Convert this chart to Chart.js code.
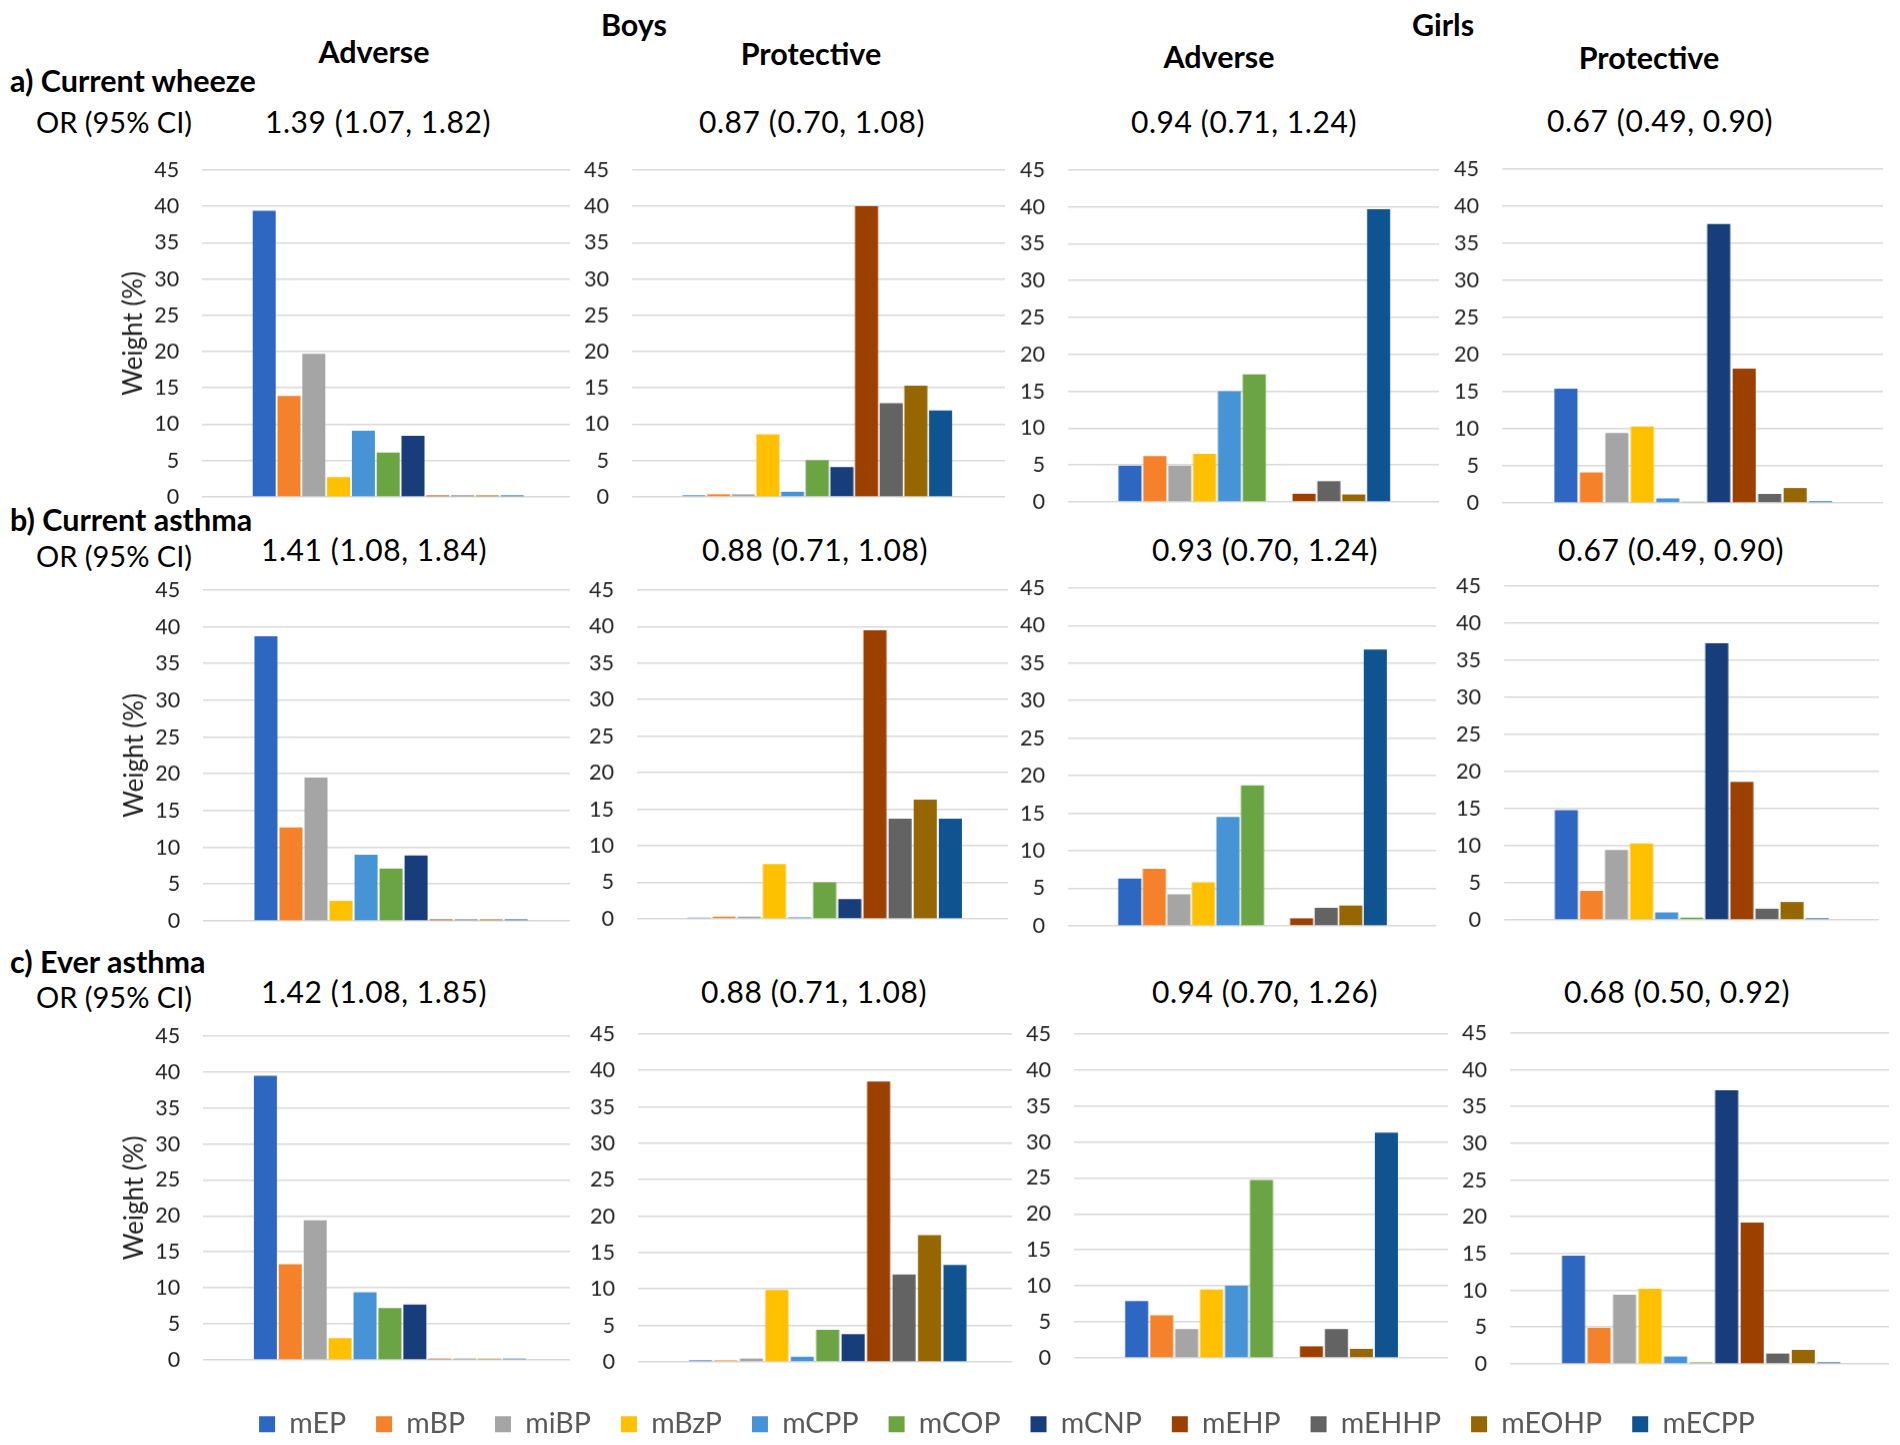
<!DOCTYPE html>
<html><head><meta charset="utf-8">
<script src="https://cdn.jsdelivr.net/npm/chart.js@4/dist/chart.umd.min.js"></script>
<style>
html,body{margin:0;padding:0;background:#fff;}
body{width:1900px;height:1445px;position:relative;overflow:hidden;font-family:Lato,"Open Sans",sans-serif;}
.c{position:absolute;white-space:nowrap;color:#000;transform:translate(-50%,-50%);line-height:1;}
.l{position:absolute;white-space:nowrap;color:#000;transform:translateY(-50%);line-height:1;}
.b{font-weight:bold;}
.box{position:absolute;}
</style></head><body>
<script>
// ---------- DATA ----------
const categories = ['mEP','mBP','miBP','mBzP','mCPP','mCOP','mCNP','mEHP','mEHHP','mEOHP','mECPP'];
const yTickValues = [0,5,10,15,20,25,30,35,40,45];
const sexLabels = ['Boys','Girls'];
const directionLabels = ['Adverse','Protective','Adverse','Protective'];
const outcomeLabels = ['a) Current wheeze','b) Current asthma','c) Ever asthma'];
const orLabel = 'OR (95% CI)';
const yTitle = 'Weight (%)';

const orWheeze        = ['1.39 (1.07, 1.82)','0.87 (0.70, 1.08)','0.94 (0.71, 1.24)','0.67 (0.49, 0.90)'];
const orCurrentAsthma = ['1.41 (1.08, 1.84)','0.88 (0.71, 1.08)','0.93 (0.70, 1.24)','0.67 (0.49, 0.90)'];
const orEverAsthma    = ['1.42 (1.08, 1.85)','0.88 (0.71, 1.08)','0.94 (0.70, 1.26)','0.68 (0.50, 0.92)'];

const wheezeBoysAdverse     = [39.4,13.9,19.7,2.7,9.1,6.1,8.4,0.2,0.2,0.2,0.2];
const wheezeBoysProtective  = [0.2,0.35,0.35,8.6,0.7,5.05,4.1,40.0,12.9,15.3,11.9];
const wheezeGirlsAdverse    = [4.9,6.2,4.9,6.5,15.0,17.3,0,1.1,2.8,1.0,39.7];
const wheezeGirlsProtective = [15.4,4.1,9.4,10.3,0.6,0.15,37.6,18.1,1.2,2.0,0.2];

const currentAsthmaBoysAdverse     = [38.7,12.7,19.5,2.7,9.0,7.1,8.9,0.2,0.2,0.2,0.2];
const currentAsthmaBoysProtective  = [0.15,0.3,0.3,7.5,0.2,5.0,2.7,39.5,13.7,16.3,13.7];
const currentAsthmaGirlsAdverse    = [6.3,7.6,4.2,5.8,14.5,18.7,0,1.0,2.4,2.7,36.8];
const currentAsthmaGirlsProtective = [14.8,3.9,9.4,10.3,1.0,0.3,37.3,18.6,1.5,2.4,0.2];

const everAsthmaBoysAdverse     = [39.5,13.3,19.4,3.0,9.4,7.2,7.7,0.15,0.15,0.15,0.15];
const everAsthmaBoysProtective  = [0.2,0.2,0.45,9.85,0.7,4.4,3.8,38.5,12.0,17.4,13.3];
const everAsthmaGirlsAdverse    = [7.9,5.9,4.0,9.5,10.0,24.7,0,1.6,4.0,1.25,31.3];
const everAsthmaGirlsProtective = [14.7,4.9,9.4,10.2,1.0,0.2,37.2,19.2,1.4,1.9,0.2];

// ---------- STYLE / LAYOUT ----------
const colors = ['#2E67C2','#F5822A','#A5A5A5','#FFC000','#4693D6','#6AA443','#173D7A','#9C4000','#636363','#966600','#0F5491'];
const FONT = 'Lato';
Chart.defaults.font.family = FONT;
Chart.defaults.animation = false;

const panelData = [
  [wheezeBoysAdverse, wheezeBoysProtective, wheezeGirlsAdverse, wheezeGirlsProtective],
  [currentAsthmaBoysAdverse, currentAsthmaBoysProtective, currentAsthmaGirlsAdverse, currentAsthmaGirlsProtective],
  [everAsthmaBoysAdverse, everAsthmaBoysProtective, everAsthmaGirlsAdverse, everAsthmaGirlsProtective]
];
const orRows = [orWheeze, orCurrentAsthma, orEverAsthma];

// geometry: [gridLeft, gridRight, yTop(45), yBottom(0), firstBarCenter, lastBarCenter]
const geom = [
  [[202,570,170,496,239.7,537.3],[632,1005,170,496,668.7,964],[1068,1439,170,501,1105,1402.7],[1502,1883,169,502,1540.3,1845.3]],
  [[203,570,590,920,241.7,542],[637,1008,590,918,674,975],[1068,1436,588,925,1105,1399],[1504,1879,586,919,1541,1841.3]],
  [[203,570,1036,1359,241,540],[638,1012,1034,1361,675.3,980],[1074,1448,1034,1357,1111.5,1410.5],[1510,1889,1033,1363,1548,1853.7]]
];

// ---------- TEXT ----------
function addText(txt, x, y, size, cls, center, ls){
  const d = document.createElement('div');
  d.className = (center ? 'c ' : 'l ') + (cls||'');
  d.style.left = x + 'px'; d.style.top = y + 'px';
  d.style.fontSize = size + 'px';
  if (ls) d.style.letterSpacing = ls + 'px';
  d.textContent = txt;
  document.body.appendChild(d);
}
addText(sexLabels[0], 634, 24, 30.5, 'b', true);
addText(sexLabels[1], 1443, 24, 30.5, 'b', true);
[[374,51],[811,53],[1219,56],[1649,57]].forEach((p,i)=>addText(directionLabels[i], p[0], p[1], 30.5, 'b', true));
const rowLabelY = [[80,121],[519,555],[961,996]];
const orPos = [
  [[378,121],[812,121],[1244,121],[1660,120]],
  [[374,549],[815,549],[1265,549],[1671,549]],
  [[374,991],[814,991],[1265,991],[1677,991]]
];
outcomeLabels.forEach((t,r)=>{
  addText(t, 10, rowLabelY[r][0], 30.5, 'b', false);
  addText(orLabel, 36, rowLabelY[r][1], 29, '', false);
  orRows[r].forEach((v,c)=>addText(v, orPos[r][c][0], orPos[r][c][1], 30, '', true, 0.6));
});

// ---------- CHARTS ----------
function makePanel(values, g, showTitle){
  const [gl, gr, yt, yb, fc, lc] = g;
  const unit = (lc - fc) / (categories.length - 1);
  const xmin = (gl - fc) / unit;
  const xmax = (categories.length - 1) + (gr - lc) / unit;
  const box = document.createElement('div');
  box.className = 'box';
  let w = (gr - gl) + 140, h = (yb - yt) + 40;
  box.style.left = (gl - 120) + 'px'; box.style.top = (yt - 15) + 'px';
  box.style.width = w + 'px'; box.style.height = h + 'px';
  const cv = document.createElement('canvas');
  box.appendChild(cv);
  document.body.appendChild(box);
  const chart = new Chart(cv, {
    type: 'bar',
    data: {
      datasets: [{
        label: 'Weight',
        data: values.map((v,i)=>({x:i, y:v})),
        backgroundColor: categories.map((c,i)=>colors[i]),
        borderWidth: 0,
        inflateAmount: 0,
        barThickness: 23
      }]
    },
    options: {
      responsive: true, maintainAspectRatio: false, animation: false,
      layout: { padding: 0 },
      plugins: { legend: { display: false }, tooltip: { enabled: false } },
      scales: {
        x: { type: 'linear', min: xmin, max: xmax, display: false },
        y: {
          min: 0, max: 45,
          afterBuildTicks: (s) => { s.ticks = yTickValues.map(v=>({value:v})); },
          afterFit: (s) => { if (showTitle) s.width -= 18; },
          ticks: { padding: 23, color: '#1f1f1f', font: { size: 21.5, family: FONT } },
          grid: { color: '#D9D9D9', lineWidth: 1.5, drawTicks: false },
          border: { display: false },
          title: { display: showTitle, text: yTitle, color: '#1f1f1f',
                   font: { size: 26, family: FONT }, padding: { top: 0, bottom: 0 } }
        }
      }
    }
  });
  for (let k = 0; k < 3; k++) {
    const ca = chart.chartArea;
    const offL = ca.left, offT = ca.top, offR = chart.width - ca.right, offB = chart.height - ca.bottom;
    w = (gr - gl) + offL + offR; h = (yb - yt) + offT + offB;
    box.style.left = (gl - offL) + 'px'; box.style.top = (yt - offT) + 'px';
    box.style.width = w + 'px'; box.style.height = h + 'px';
    chart.resize();
  }
  return chart;
}

panelData.forEach((row, r)=>row.forEach((vals, c)=>makePanel(vals, geom[r][c], c === 0)));

// ---------- LEGEND ----------
(function(){
  const LEG_FONT = 28.5, LEG_PAD = 30;
  const box = document.createElement('div');
  box.className = 'box';
  box.style.left = '0px';
  box.style.top = (1424 - LEG_PAD - LEG_FONT / 2) + 'px';
  box.style.width = '2014px'; box.style.height = '220px';
  const cv = document.createElement('canvas');
  box.appendChild(cv);
  document.body.appendChild(box);
  new Chart(cv, {
    type: 'bar',
    data: { labels: [''], datasets: categories.map((c,i)=>({ label: c, data: [0], backgroundColor: colors[i] })) },
    options: {
      responsive: true, maintainAspectRatio: false, animation: false,
      layout: { padding: 0 },
      scales: { x: { display: false }, y: { display: false } },
      plugins: {
        tooltip: { enabled: false },
        legend: {
          position: 'top',
          labels: { boxWidth: 16, boxHeight: 16, padding: LEG_PAD, color: '#595959',
                    font: { size: LEG_FONT, family: FONT } }
        }
      }
    }
  });
})();
</script>
</body></html>
